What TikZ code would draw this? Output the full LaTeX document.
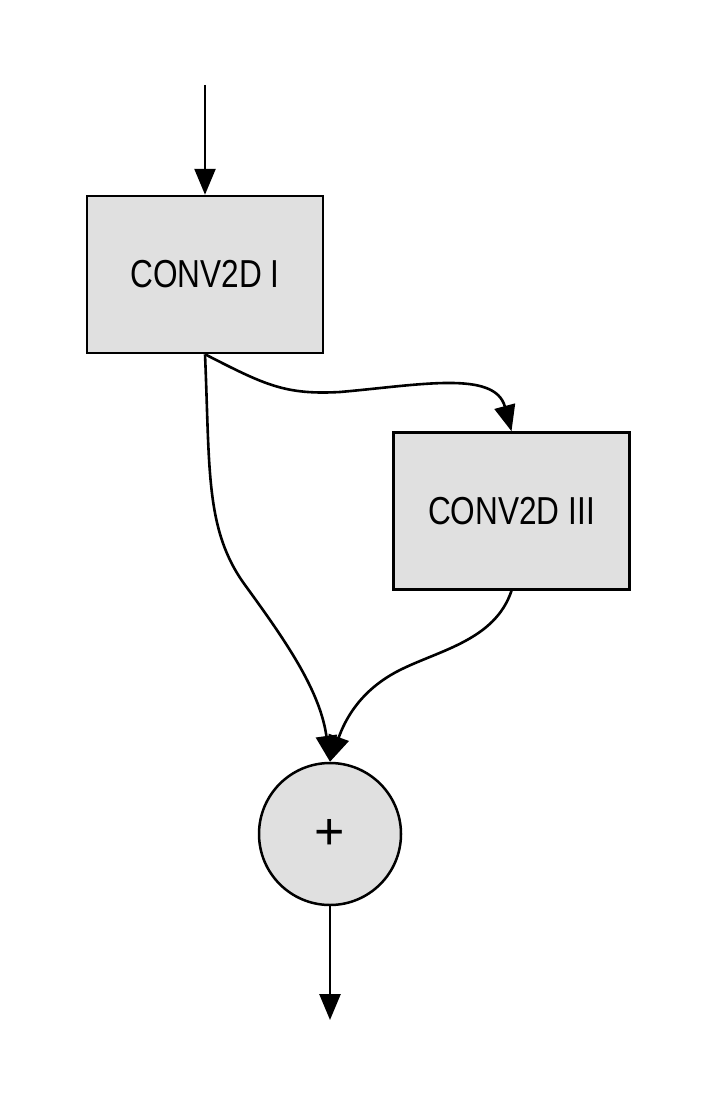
\documentclass[tikz,border=0pt]{standalone}
\usepackage{fontspec}
\setmainfont{Liberation Sans}
\newfontfamily\narrowsans[FakeStretch=0.81]{Liberation Sans}
\usetikzlibrary{arrows.meta}
\definecolor{layergray}{RGB}{224,224,224}
\tikzset{
  layer/.style={draw, fill=layergray, line width=1.25pt, minimum width=118pt,
    minimum height=78.5pt, font=\narrowsans\fontsize{19.5}{23}\selectfont},
  addop/.style={draw, circle, fill=layergray, line width=1.25pt, minimum size=71pt,
    inner sep=0pt, font=\fontsize{26}{30}\selectfont},
  flow/.style={-{Triangle[length=13pt,width=10.5pt]}, line width=1.3pt}
}

\begin{document}
\begin{tikzpicture}[x=0.5pt,y=-0.5pt]
  \useasboundingbox (0,0) rectangle (708,1102);
  \node[layer] (C1) at (205,274.5) {CONV2D I};
  \node[layer] (C3) at (511.5,511) {CONV2D III};
  \node[addop] (Add) at (330,834) {\raisebox{-2pt}{+}};
  \coordinate (In) at (205,85);
  \coordinate (Out) at (330,1020);
  \draw[flow] (In) -- (C1);
  \draw[flow] (C1.south) .. controls (265,385) and (285,395) .. (340,392)
    .. controls (420,385) and (495,370) .. (C3.north);
  \draw[flow] (C1.south) .. controls (210,470) and (205,530) .. (245,585)
    .. controls (285,640) and (320,690) .. (Add.north);
  \draw[flow] (C3.south) .. controls (495,640) and (440,650) .. (400,670)
    .. controls (360,690) and (345,720) .. (Add.north);
  \draw[flow] (Add) -- (Out);
\end{tikzpicture}
\end{document}
